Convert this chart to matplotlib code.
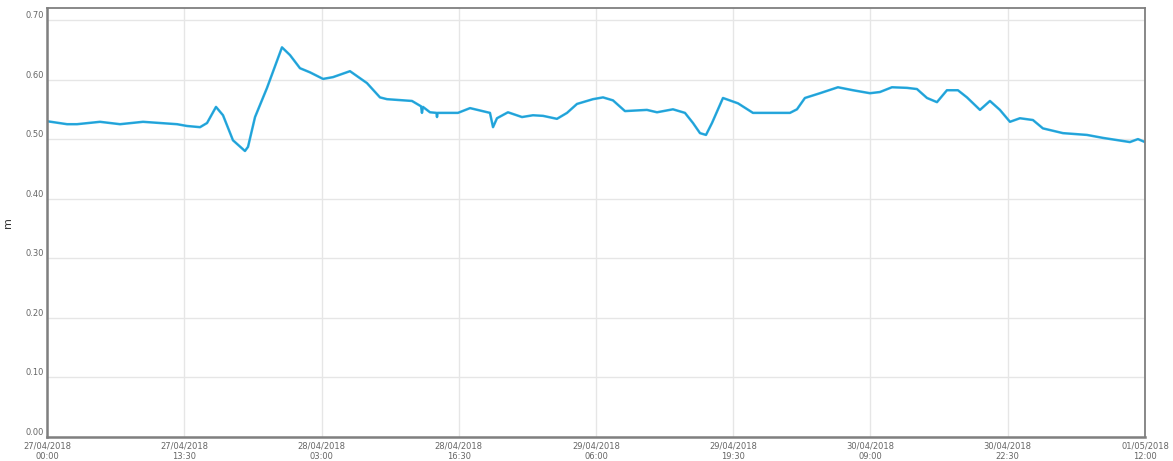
import matplotlib
matplotlib.use("Agg")
import matplotlib.pyplot as plt
import matplotlib.dates as mdates
import numpy as np
import datetime as dt

start = dt.datetime(2018, 4, 27, 0, 0)
hours = [0.0, 1.97, 2.95, 5.21, 7.18, 9.44, 12.79, 13.77, 15.05, 15.74, 16.62, 17.31,
         18.29, 19.47, 19.77, 20.46, 21.64, 23.11, 23.90, 24.88, 25.87, 27.15, 28.13,
         29.80, 31.47, 32.75, 33.44, 35.90, 36.79, 36.88, 36.98, 37.67, 38.30, 38.36, 38.42,
         40.42, 41.61, 43.57, 43.87, 44.26, 45.34, 46.72, 47.80, 48.79, 50.16, 51.15,
         52.13, 53.70, 54.69, 55.67, 56.85, 59.01, 60.00, 61.57, 62.75, 63.54, 64.23,
         64.82, 65.41, 66.49, 67.97, 69.44, 72.10, 73.08, 73.77, 74.55, 76.03, 77.80,
         79.28, 80.95, 81.93, 83.11, 84.59, 85.57, 86.56, 87.54, 88.52, 89.60, 90.49,
         91.77, 92.75, 93.73, 94.72, 95.70, 96.98, 97.96, 99.93, 102.29, 103.87,
         106.52, 107.31, 108.0]
level = [0.530, 0.525, 0.525, 0.529, 0.525, 0.529, 0.525, 0.522, 0.520, 0.527, 0.554, 0.540,
         0.498, 0.480, 0.487, 0.537, 0.586, 0.654, 0.641, 0.619, 0.612, 0.601, 0.604,
         0.614, 0.594, 0.570, 0.567, 0.564, 0.555, 0.544, 0.554, 0.545, 0.544, 0.537, 0.544,
         0.544, 0.552, 0.544, 0.520, 0.535, 0.545, 0.537, 0.540, 0.539, 0.534, 0.544,
         0.559, 0.567, 0.570, 0.565, 0.547, 0.549, 0.545, 0.550, 0.544, 0.527, 0.510,
         0.507, 0.527, 0.569, 0.560, 0.544, 0.544, 0.544, 0.550, 0.569, 0.577, 0.587,
         0.582, 0.577, 0.579, 0.587, 0.586, 0.584, 0.569, 0.562, 0.582, 0.582, 0.570,
         0.549, 0.564, 0.549, 0.529, 0.535, 0.532, 0.518, 0.510, 0.507, 0.502,
         0.495, 0.500, 0.495]
tick_hours = [0, 13.5, 27, 40.5, 54, 67.5, 81, 94.5, 108]
y_ticks = [0.0, 0.1, 0.2, 0.3, 0.4, 0.5, 0.6, 0.7]
y_label = "m"

times = [start + dt.timedelta(hours=h) for h in hours]
tick_times = [start + dt.timedelta(hours=h) for h in tick_hours]

fig = plt.figure(figsize=(11.73, 4.61), dpi=100)
ax = fig.add_axes([0.0401, 0.0521, 0.9360, 0.9305])

ax.plot(times, level, color="#2aaee3", linewidth=1.8, solid_joinstyle="round")
ax.plot(times, level, color="#1b8fc4", linewidth=0.6, alpha=0.6)

ax.set_xlim(start, start + dt.timedelta(hours=108))
ax.set_ylim(0, 0.72)
ax.set_yticks(y_ticks)
ax.set_yticklabels([f"{v:.2f}" for v in y_ticks])
ax.set_xticks(tick_times)
ax.xaxis.set_major_formatter(mdates.DateFormatter("%d/%m/%Y\n%H:%M"))

ax.grid(True, color="#e6e6e6", linewidth=1.0)
ax.set_axisbelow(True)
ax.tick_params(axis="both", length=0, labelsize=6, labelcolor="#666666", pad=2)
ax.tick_params(axis="x", pad=3)
for lab in ax.get_yticklabels():
    lab.set_verticalalignment("bottom")

for name, sp in ax.spines.items():
    sp.set_color("#7f7f7f")
    sp.set_linewidth(1.8 if name in ("left", "bottom") else 1.3)

ax.set_ylabel(y_label, fontsize=8, color="#333333")
ax.yaxis.set_label_coords(-0.031, 0.5)

fig.savefig("out.png", dpi=100)
